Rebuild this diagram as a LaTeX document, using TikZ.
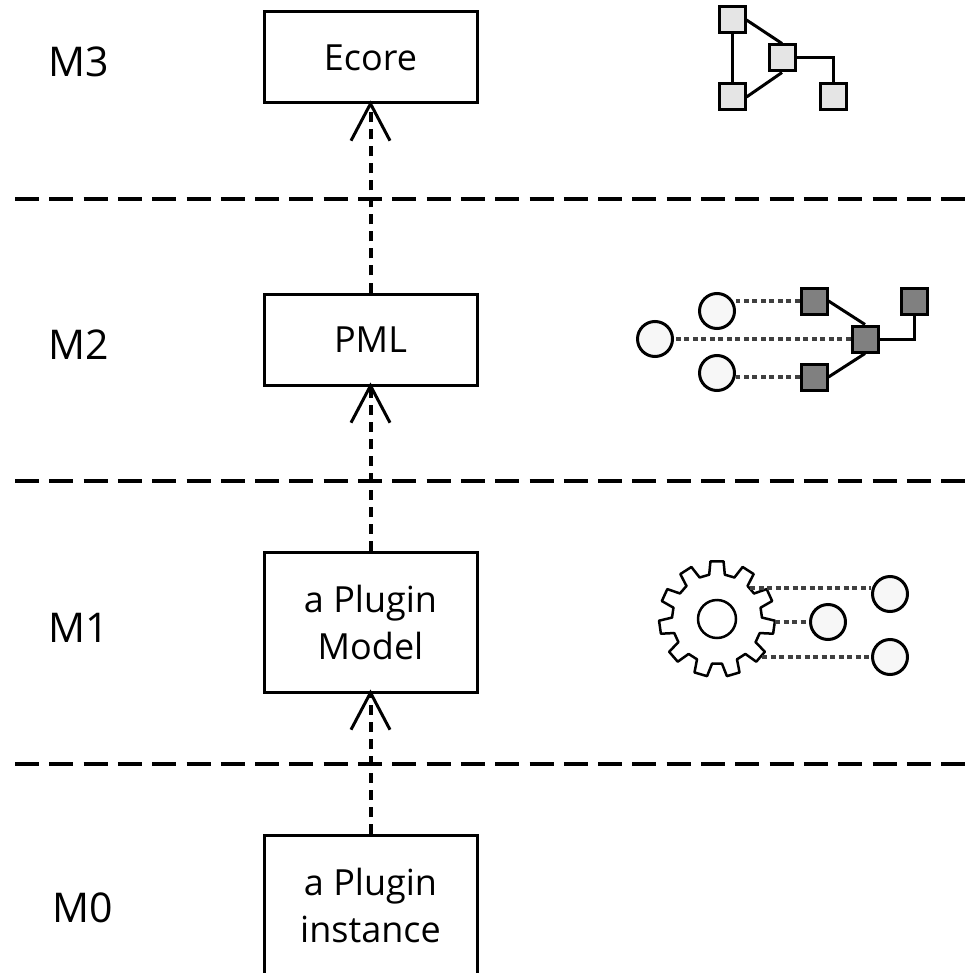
\documentclass[tikz,border=0pt]{standalone}
\usepackage{fontspec}
\setmainfont{Open Sans}
\usetikzlibrary{arrows.meta}
\tikzset{levelbox/.style={draw, line width=3pt, minimum width=213pt, align=center, font=\fontsize{36}{47}\selectfont}}
\tikzset{levellabel/.style={font=\fontsize{41}{48}\selectfont}}
\tikzset{levelline/.style={line width=4pt, dash pattern=on 24pt off 10.3pt}}
\tikzset{conformsto/.style={line width=4pt, dash pattern=on 10pt off 7pt, shorten >=-4pt, -{Straight Barb[length=37pt, width=39pt, line width=3pt]}}}
\tikzset{metaitem/.style={draw, line width=3pt, fill=black!10, minimum size=26pt, inner sep=0pt}}
\tikzset{modelitem/.style={draw, line width=3pt, fill=black!50, minimum size=26pt, inner sep=0pt}}
\tikzset{instanceitem/.style={draw, circle, line width=3pt, fill=black!3, minimum size=35pt, inner sep=0pt}}
\tikzset{itemlink/.style={line width=3pt}}
\tikzset{tracelink/.style={line width=3.5pt, color=black!75, dash pattern=on 5pt off 3.5pt}}
\tikzset{gearline/.style={line width=2.5pt, line join=round, line cap=round}}
\begin{document}
\begin{tikzpicture}[x=1pt, y=-1pt]
\useasboundingbox (0, 0) rectangle (969, 973);
\node[levelbox, minimum height=91pt] (ecore) at (370.5, 57.5) {\raisebox{-2pt}{Ecore}};
\node[levelbox, minimum height=91pt] (pml) at (370.5, 339.5) {\raisebox{-2pt}{PML}};
\node[levelbox, minimum height=140pt] (model) at (370.5, 622) {a Plugin\\Model};
\node[levelbox, minimum height=140pt] (instance) at (370.5, 905) {a Plugin\\instance};
\node[levellabel] (m3) at (79, 62) {M3};
\node[levellabel] (m2) at (79, 345) {M2};
\node[levellabel] (m1) at (79, 628) {M1};
\node[levellabel] (m0) at (83, 908) {M0};
\foreach \y/\name in {199/a, 481/b, 764/c} {
\coordinate (\name left) at (15, \y);
\coordinate (\name right) at (969, \y);
\draw[levelline] (\name left) -- (\name right);
}
\draw[conformsto] (pml.north) -- (ecore.south);
\draw[conformsto] (model.north) -- (pml.south);
\draw[conformsto] (instance.north) -- (model.south);
\node[metaitem] (meta a) at (732, 20) {};
\node[metaitem] (meta b) at (782, 58) {};
\node[metaitem] (meta c) at (732, 97) {};
\node[metaitem] (meta d) at (833, 97) {};
\draw[itemlink] (meta a.south) -- (meta c.north);
\draw[itemlink] (meta a.east) -- (meta b.north);
\draw[itemlink] (meta c.east) -- (meta b.south);
\draw[itemlink] (meta b.east) -| (meta d.north);
\node[modelitem] (class a) at (814, 301) {};
\node[modelitem] (class b) at (865, 339) {};
\node[modelitem] (class c) at (814, 377) {};
\node[modelitem] (class d) at (914, 301) {};
\node[instanceitem] (object a) at (717, 311) {};
\node[instanceitem] (object b) at (655, 339) {};
\node[instanceitem] (object c) at (717, 373) {};
\draw[itemlink] (class a.east) -- (class b.north);
\draw[itemlink] (class c.east) -- (class b.south);
\draw[itemlink] (class b.east) -| (class d.south);
\draw[tracelink] (class a.west) -- (class a.west -| object a.east);
\draw[tracelink] (class b.west) -- (object b.east);
\draw[tracelink] (class c.west) -- (class c.west -| object c.east);
\foreach \a in {-90, -57.27, -24.55, 8.18, 40.91, 73.64, 106.36, 139.09, 171.82, 204.55, 237.27} {
\draw[gearline, shift={(717, 619)}] (\a-10:45) -- (\a-6.5:58) -- (\a+6.5:58) -- (\a+10:45) -- (\a+22.73:45);
}
\node[draw, circle, line width=2.5pt, minimum size=38pt, inner sep=0pt] (hole) at (717, 619) {};
\node[instanceitem] (run a) at (890, 594) {};
\node[instanceitem] (run b) at (828, 622) {};
\node[instanceitem] (run c) at (890, 657) {};
\coordinate (gear a) at (750, 588);
\coordinate (gear b) at (775, 622);
\coordinate (gear c) at (762, 657);
\draw[tracelink] (gear a) -- (gear a -| run a.west);
\draw[tracelink] (gear b) -- (run b.west);
\draw[tracelink] (gear c) -- (run c.west);
\end{tikzpicture}
\end{document}
